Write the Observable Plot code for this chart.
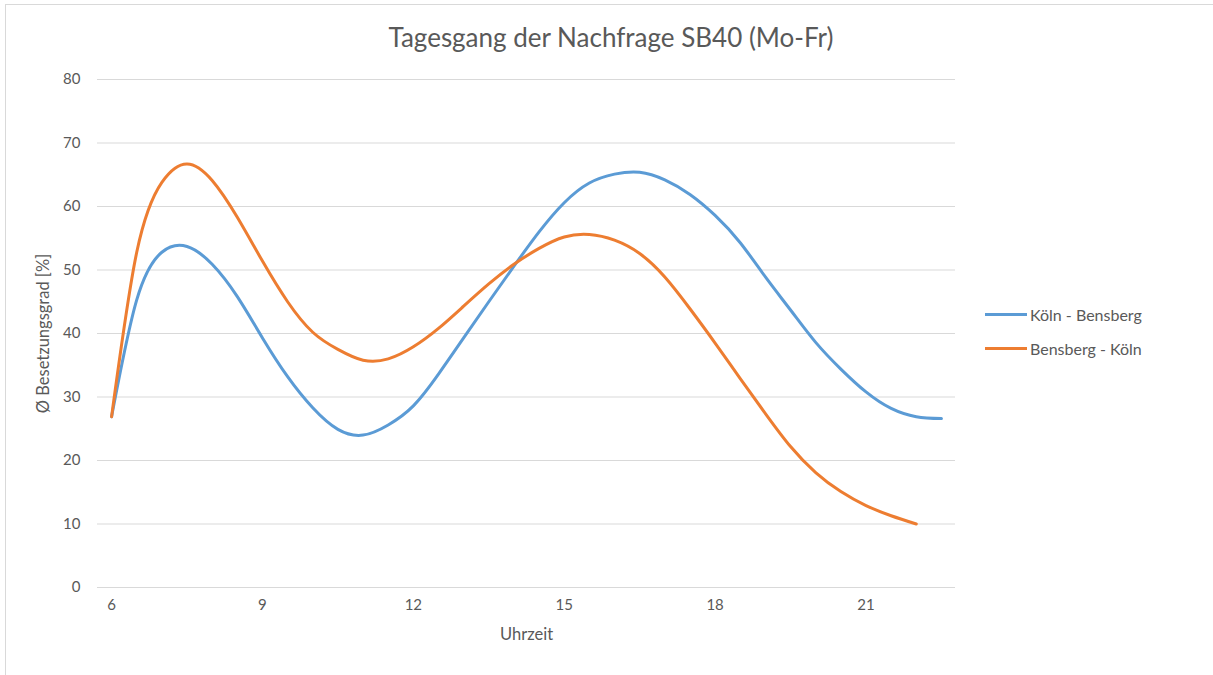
<!DOCTYPE html>
<html>
<head>
<meta charset="utf-8">
<script src="https://cdn.jsdelivr.net/npm/d3@7"></script>
<script src="https://cdn.jsdelivr.net/npm/@observablehq/plot@0.6"></script>
<style>
  html, body { margin: 0; padding: 0; background: #fff; }
  #chart { position: relative; width: 1213px; height: 675px; overflow: hidden; font-family: Lato, "Open Sans", sans-serif; }
  #frame { position: absolute; left: 5px; top: 4px; right: -2px; bottom: -2px; border-top: 1px solid #d9d9d9; border-left: 1px solid #d9d9d9; pointer-events: none; }
  #title { position: absolute; left: 0; width: 1222px; top: 21px; text-align: center; font-size: 26px; color: #595959; }
  .leg { position: absolute; left: 985px; font-size: 16px; color: #595959; display: flex; align-items: center; }
  .leg span.sw { display: inline-block; width: 42px; height: 3px; margin-right: 3px; }
  #chart svg { position: absolute; left: 0; top: 0; }
  #chart svg g[aria-label="x-axis label"] text,
  #chart svg g[aria-label="y-axis label"] text { font-size: 16.5px; }
</style>
</head>
<body>
<div id="chart">
  <div id="frame"></div>
  <div id="title"></div>
  <div id="legend"></div>
</div>
<script>
const title = "Tagesgang der Nachfrage SB40 (Mo-Fr)";
const xLabel = "Uhrzeit";
const yLabel = "Ø Besetzungsgrad [%]";
const seriesNames = ["Köln - Bensberg", "Bensberg - Köln"];
const seriesColors = ["#5B9BD5", "#ED7D31"];
const xTicks = [6, 9, 12, 15, 18, 21];
const yTicks = [0, 10, 20, 30, 40, 50, 60, 70, 80];

// Köln - Bensberg (half-hourly values)
const hoursKB = [6.0, 6.5, 7.0, 7.5, 8.0, 8.5, 9.0, 9.5, 10.0, 10.5, 11.0, 11.5, 12.0, 12.5, 13.0, 13.5, 14.0, 14.5, 15.0, 15.5, 16.0, 16.5, 17.0, 17.5, 18.0, 18.5, 19.0, 19.5, 20.0, 20.5, 21.0, 21.5, 22.0, 22.5];
const valuesKB = [26.9, 45.3, 52.8, 53.7, 50.9, 45.8, 39.3, 33.2, 28.3, 24.9, 24.0, 25.6, 28.6, 33.6, 39.3, 45.0, 50.6, 56.0, 60.6, 63.7, 65.1, 65.4, 64.2, 61.9, 58.6, 54.3, 48.9, 43.7, 38.6, 34.4, 30.8, 28.2, 26.9, 26.6];

// Bensberg - Köln
const hoursBK = [6.0, 6.5, 7.0, 7.5, 8.0, 8.5, 9.0, 9.5, 10.0, 10.5, 11.0, 11.5, 12.0, 12.5, 13.0, 13.5, 14.0, 14.5, 15.0, 15.5, 16.0, 16.5, 17.0, 17.5, 18.0, 18.5, 19.0, 19.5, 20.0, 20.5, 21.0, 21.5, 22.0];
const valuesBK = [26.9, 52.8, 63.8, 66.7, 64.1, 58.3, 51.4, 45.0, 40.2, 37.5, 35.8, 36.0, 37.9, 40.8, 44.3, 47.8, 50.9, 53.4, 55.2, 55.6, 54.7, 52.6, 48.9, 43.9, 38.5, 32.9, 27.4, 22.2, 18.1, 15.1, 12.9, 11.3, 10.0];

const data = [
  ...hoursKB.map((h, i) => ({hour: h, value: valuesKB[i], series: seriesNames[0]})),
  ...hoursBK.map((h, i) => ({hour: h, value: valuesBK[i], series: seriesNames[1]}))
];

document.getElementById("title").textContent = title;

const legend = document.getElementById("legend");
seriesNames.forEach((name, i) => {
  const d = document.createElement("div");
  d.className = "leg";
  d.style.top = (305 + i * 34) + "px";
  const sw = document.createElement("span");
  sw.className = "sw";
  sw.style.background = seriesColors[i];
  d.appendChild(sw);
  const t = document.createElement("span");
  t.textContent = name;
  d.appendChild(t);
  legend.appendChild(d);
});

const plot = Plot.plot({
  width: 1213,
  height: 675,
  marginLeft: 97,
  marginRight: 258,
  marginTop: 79,
  marginBottom: 88,
  style: {fontFamily: "Lato, 'Open Sans', sans-serif", fontSize: "15px", color: "#595959", background: "transparent"},
  x: {domain: [5.72, 22.78]},
  y: {domain: [0, 80]},
  color: {domain: seriesNames, range: seriesColors},
  marks: [
    Plot.gridY(yTicks, {stroke: "#d9d9d9", strokeOpacity: 1, strokeWidth: 1}),
    Plot.axisY(yTicks, {tickSize: 0, tickPadding: 17, label: yLabel, labelAnchor: "center", labelArrow: "none", labelOffset: 60, fontSize: 15, fill: "#595959"}),
    Plot.axisX(xTicks, {tickSize: 0, tickPadding: 12, label: xLabel, labelAnchor: "center", labelArrow: "none", labelOffset: 52, fontSize: 15, fill: "#595959"}),
    Plot.line(data, {x: "hour", y: "value", z: "series", stroke: "series", strokeWidth: 3, curve: "natural"})
  ]
});
document.getElementById("chart").appendChild(plot);
</script>
</body>
</html>
